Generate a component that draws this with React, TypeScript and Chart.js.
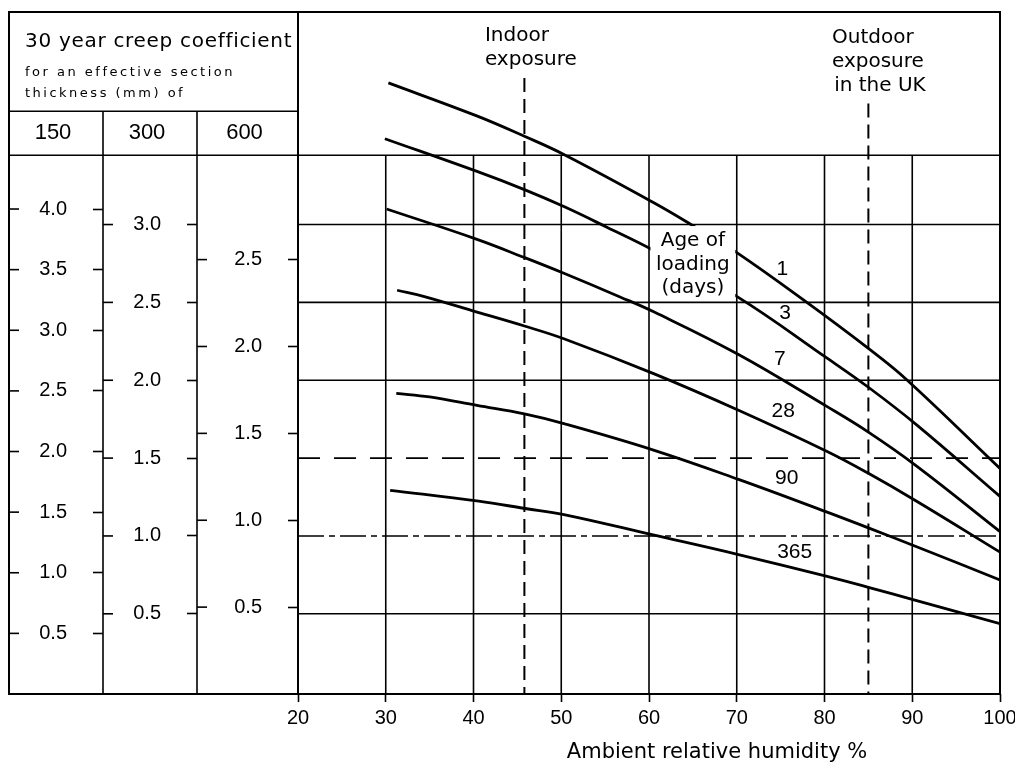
import React, { useEffect, useRef } from 'react';
import { Chart, registerables } from 'chart.js';

Chart.register(...registerables);

// ---------- data ----------
const humidityTicks = [20, 30, 40, 50, 60, 70, 80, 90, 100];
const creep150Ticks = [0.5, 1.0, 1.5, 2.0, 2.5, 3.0, 3.5, 4.0];
const creep300Ticks = [0.5, 1.0, 1.5, 2.0, 2.5, 3.0];
const creep600Ticks = [0.5, 1.0, 1.5, 2.0, 2.5];
const thicknessHeaders = ['150', '300', '600'];
const exposureHumidity = [45.8, 85];
const ageLabels = ['1', '3', '7', '28', '90', '365'];

// Ambient relative humidity (%) and 30 year creep coefficient (150 mm scale)
const rhAge1 = [30.3, 40.3, 45.8, 50.3, 60.6, 65.2, 69.8, 77.6, 85.0, 89.4, 100];
const creepAge1 = [5.04, 4.77, 4.60, 4.45, 4.05, 3.855, 3.65, 3.25, 2.85, 2.59, 1.86];

const rhAge3 = [29.9, 40.4, 45.8, 50.3, 55.2, 60.5, 70.0, 80.3, 85.0, 90.5, 100];
const creepAge3 = [4.58, 4.31, 4.16, 4.02, 3.85, 3.66, 3.28, 2.77, 2.53, 2.22, 1.63];

const rhAge7 = [30.1, 40.4, 45.8, 50.3, 56.7, 60.6, 70.2, 80.3, 85.0, 90.5, 100];
const creepAge7 = [4.00, 3.75, 3.60, 3.47, 3.275, 3.15, 2.80, 2.37, 2.16, 1.88, 1.34];

const rhAge28 = [31.3, 34.3, 40.4, 45.8, 50.3, 60.6, 70.2, 80.3, 85.0, 90.5, 100];
const creepAge28 = [3.33, 3.28, 3.15, 3.035, 2.93, 2.64, 2.34, 2.00, 1.82, 1.59, 1.17];

const rhAge90 = [31.2, 35.0, 40.4, 45.8, 50.3, 60.6, 70.2, 80.3, 85.0, 90.5, 100];
const creepAge90 = [2.48, 2.45, 2.38, 2.31, 2.23, 2.01, 1.77, 1.50, 1.37, 1.215, 0.94];

const rhAge365 = [30.5, 40.6, 45.9, 50.3, 60.6, 70.2, 80.3, 85.0, 90.5, 100];
const creepAge365 = [1.68, 1.59, 1.53, 1.48, 1.31, 1.15, 0.97, 0.88, 0.77, 0.58];

const series = [
  { age: ageLabels[0], rh: rhAge1, creep: creepAge1 },
  { age: ageLabels[1], rh: rhAge3, creep: creepAge3 },
  { age: ageLabels[2], rh: rhAge7, creep: creepAge7 },
  { age: ageLabels[3], rh: rhAge28, creep: creepAge28 },
  { age: ageLabels[4], rh: rhAge90, creep: creepAge90 },
  { age: ageLabels[5], rh: rhAge365, creep: creepAge365 },
];

// ---------- layout / styling ----------
const NUM_FONT = '"Liberation Sans", Arial, sans-serif';
const TXT_FONT = '"DejaVu Sans", sans-serif';

// curve label anchors (humidity, creep on 150 scale)
const curveLabelAnchors = [
  [75.2, 3.50],
  [75.5, 3.14],
  [74.9, 2.76],
  [75.3, 2.33],
  [75.7, 1.78],
  [76.6, 1.17],
];
const exposureTop = [5.08, 4.87];

function line(ctx: CanvasRenderingContext2D, x1: number, y1: number, x2: number, y2: number) {
  ctx.beginPath();
  ctx.moveTo(x1, y1);
  ctx.lineTo(x2, y2);
  ctx.stroke();
}

const tablePlugin = {
  id: 'creepTable',
  beforeDatasetsDraw(chart: any) {
    const { ctx, chartArea: ca } = chart;
    const sx = chart.scales.x;
    const s150 = chart.scales.y150;
    const s300 = chart.scales.y300;
    const s600 = chart.scales.y600;
    const left = s150.left;
    const headSplit = s150.getPixelForValue(4.806);
    const headBase = s150.getPixelForValue(4.443);
    ctx.save();
    ctx.strokeStyle = '#000';
    ctx.lineCap = 'butt';
    ctx.lineWidth = 1.6;
    // vertical grid lines
    humidityTicks.slice(1, -1).forEach((v) => {
      const px = sx.getPixelForValue(v);
      line(ctx, px, headBase, px, ca.bottom);
    });
    // horizontal grid lines (300 mm scale)
    creep300Ticks.forEach((v) => {
      const py = s300.getPixelForValue(v);
      ctx.setLineDash(v === 1.0 ? [26, 5, 6, 5] : v === 1.5 ? [22, 14] : []);
      line(ctx, ca.left, py, ca.right, py);
    });
    ctx.setLineDash([]);
    // table lines
    line(ctx, left, headBase, ca.right, headBase);
    line(ctx, left, headSplit, ca.left, headSplit);
    line(ctx, s150.right, headSplit, s150.right, ca.bottom);
    line(ctx, s300.right, headSplit, s300.right, ca.bottom);
    // mirrored tick marks on the left side of each column
    [s150, s300, s600].forEach((s: any) => {
      s.ticks.forEach((t: any) => {
        const py = s.getPixelForValue(t.value);
        line(ctx, s.left, py, s.left + 10, py);
      });
    });
    // frame
    ctx.lineWidth = 2;
    ctx.strokeRect(left, ca.top, ca.right - left, ca.bottom - ca.top);
    line(ctx, ca.left, ca.top, ca.left, ca.bottom);
    // exposure lines
    ctx.setLineDash([14, 7]);
    exposureHumidity.forEach((v, i) => {
      const px = sx.getPixelForValue(v);
      line(ctx, px, s150.getPixelForValue(exposureTop[i]), px, ca.bottom);
    });
    ctx.restore();
  },
  afterDatasetsDraw(chart: any) {
    const { ctx, chartArea: ca } = chart;
    const sx = chart.scales.x;
    const s150 = chart.scales.y150;
    const s300 = chart.scales.y300;
    const s600 = chart.scales.y600;
    const left = s150.left;
    const headSplit = s150.getPixelForValue(4.806);
    const headBase = s150.getPixelForValue(4.443);
    ctx.save();
    // white cell for the "Age of loading" label
    const cx1 = sx.getPixelForValue(60);
    const cx2 = sx.getPixelForValue(70);
    const cy1 = s300.getPixelForValue(3.0);
    const cy2 = s300.getPixelForValue(2.5);
    ctx.fillStyle = '#fff';
    ctx.fillRect(cx1 + 1.5, cy1 + 1.5, cx2 - cx1 - 3, cy2 - cy1 - 3);
    ctx.fillStyle = '#000';
    ctx.textBaseline = 'alphabetic';
    ctx.textAlign = 'center';
    ctx.font = `20px ${TXT_FONT}`;
    const cxm = (cx1 + cx2) / 2;
    ctx.fillText('Age of', cxm, s150.getPixelForValue(3.695));
    ctx.fillText('loading', cxm, s150.getPixelForValue(3.497));
    ctx.fillText('(days)', cxm, s150.getPixelForValue(3.307));

    // curve labels
    ctx.font = `21px ${NUM_FONT}`;
    ctx.textBaseline = 'middle';
    ageLabels.forEach((lab, i) => {
      const [hx, cy] = curveLabelAnchors[i];
      ctx.fillText(lab, sx.getPixelForValue(hx), s150.getPixelForValue(cy));
    });

    // column headers
    ctx.font = `22px ${NUM_FONT}`;
    const midHead = (headSplit + headBase) / 2;
    [s150, s300, s600].forEach((s: any, i: number) => {
      ctx.fillText(thicknessHeaders[i], (s.left + s.right) / 2 - 3, midHead);
    });

    // table title
    ctx.textAlign = 'left';
    ctx.textBaseline = 'alphabetic';
    ctx.font = `20px ${TXT_FONT}`;
    (ctx as any).letterSpacing = '0.7px';
    ctx.fillText('30 year creep coefficient', left + 16, ca.top + 34.5);
    ctx.font = `13px ${TXT_FONT}`;
    (ctx as any).letterSpacing = '2.5px';
    ctx.fillText('for an effective section', left + 16, ca.top + 64);
    ctx.fillText('thickness (mm) of', left + 16, ca.top + 85);
    (ctx as any).letterSpacing = '0px';

    // exposure annotations
    ctx.font = `20px ${TXT_FONT}`;
    ctx.fillText('Indoor', sx.getPixelForValue(41.3), s150.getPixelForValue(5.382));
    ctx.fillText('exposure', sx.getPixelForValue(41.3), s150.getPixelForValue(5.188));
    ctx.fillText('Outdoor', sx.getPixelForValue(80.85), s150.getPixelForValue(5.369));
    ctx.fillText('exposure', sx.getPixelForValue(80.85), s150.getPixelForValue(5.172));
    ctx.fillText('in the UK', sx.getPixelForValue(81.1), s150.getPixelForValue(4.974));

    // x axis title
    ctx.textAlign = 'center';
    ctx.font = `21px ${TXT_FONT}`;
    ctx.fillText('Ambient relative humidity %', sx.getPixelForValue(67.75), ca.bottom + 64);
    ctx.restore();
  },
};

function columnAxis(weight: number, width: number, min: number, max: number, ticks: number[]) {
  return {
    type: 'linear',
    position: 'left',
    weight,
    min,
    max,
    afterBuildTicks: (s: any) => {
      s.ticks = ticks.map((v) => ({ value: v }));
    },
    afterFit: (s: any) => {
      s.width = width;
      s.paddingTop = 0;
      s.paddingBottom = 0;
      s.paddingLeft = 0;
      s.paddingRight = 0;
    },
    grid: { drawOnChartArea: false, drawTicks: true, tickLength: 10, tickWidth: 1.6, tickColor: '#000' },
    border: { display: false },
    ticks: {
      autoSkip: false,
      crossAlign: 'center',
      padding: 26,
      color: '#000',
      font: { family: NUM_FONT, size: 20 },
      callback: (v: any) => Number(v).toFixed(1),
    },
  };
}

export default function App() {
  const ref = useRef<HTMLCanvasElement>(null);
  useEffect(() => {
    const chart = new Chart(ref.current as HTMLCanvasElement, {
      type: 'line',
      data: {
        datasets: series.map((s) => ({
          label: `${s.age} days`,
          data: s.rh.map((x, i) => ({ x, y: s.creep[i] })),
          borderColor: '#000',
          borderWidth: 2.8,
          pointRadius: 0,
          fill: false,
          tension: 0.4,
          xAxisID: 'x',
          yAxisID: 'y150',
        })),
      },
      options: {
        animation: false,
        responsive: false,
        devicePixelRatio: 1,
        events: [],
        layout: { padding: { left: 9, top: 12, right: 15, bottom: 13 } },
        plugins: { legend: { display: false }, tooltip: { enabled: false } },
        scales: {
          x: {
            type: 'linear',
            position: 'bottom',
            min: 20,
            max: 100,
            afterBuildTicks: (s: any) => {
              s.ticks = humidityTicks.map((v) => ({ value: v }));
            },
            afterFit: (s: any) => {
              s.height = 55;
              s.paddingLeft = 0;
              s.paddingRight = 0;
            },
            grid: { drawOnChartArea: false, drawTicks: true, tickLength: 8, tickWidth: 1.6, tickColor: '#000' },
            border: { display: false },
            ticks: {
              autoSkip: false,
              maxRotation: 0,
              padding: 4,
              color: '#000',
              font: { family: NUM_FONT, size: 20 },
              callback: (v: any) => String(v),
            },
          },
          y150: columnAxis(3, 94, 0, 5.625, creep150Ticks),
          y300: columnAxis(2, 94, -0.015, 4.365, creep300Ticks),
          y600: columnAxis(1, 101, 0, 3.925, creep600Ticks),
        } as any,
      },
      plugins: [tablePlugin],
    } as any);
    return () => chart.destroy();
  }, []);
  return (
    <div style={{ position: 'fixed', left: 0, top: 0, width: 1015, height: 762, background: '#fff' }}>
      <canvas ref={ref} width={1015} height={762} style={{ display: 'block', width: 1015, height: 762 }} />
    </div>
  );
}
